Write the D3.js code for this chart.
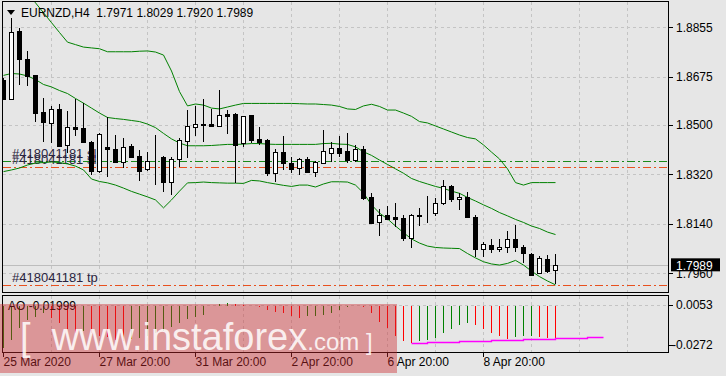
<!DOCTYPE html>
<html>
<head>
<meta charset="utf-8">
<script src="https://cdn.jsdelivr.net/npm/d3@7"></script>
<style>
  body { margin: 0; background: #e6e6e6; }
  svg { display: block; font-family: "Liberation Sans", Arial, sans-serif; }
</style>
</head>
<body>
<svg id="chart" width="726" height="376"></svg>
<script>
// EURNZD H4 candles (oldest first)
const opens = [1.8663, 1.8593, 1.8842, 1.8740, 1.8680, 1.8548, 1.8506, 1.8557, 1.8427, 1.8491,
  1.8487, 1.8437, 1.8333, 1.8420, 1.8411, 1.8366, 1.8423, 1.8387, 1.8338, 1.8384,
  1.8384, 1.8291, 1.8375, 1.8442, 1.8493, 1.8503, 1.8503, 1.8497, 1.8538, 1.8540,
  1.8433, 1.8536, 1.8448, 1.8445, 1.8326, 1.8400, 1.8360, 1.8344, 1.8375, 1.8330,
  1.8360, 1.8399, 1.8416, 1.8405, 1.8372, 1.8411, 1.8237, 1.8146, 1.8172, 1.8164,
  1.8160, 1.8087, 1.8171, 1.8174, 1.8178, 1.8215, 1.8278, 1.8229, 1.8237, 1.8164,
  1.8047, 1.8062, 1.8047, 1.8055, 1.8084, 1.8055, 1.8029, 1.7960, 1.8012, 1.7971];
const highs = [1.8671, 1.8888, 1.8851, 1.8769, 1.8681, 1.8597, 1.8569, 1.8576, 1.8550, 1.8594,
  1.8579, 1.8441, 1.8470, 1.8528, 1.8463, 1.8451, 1.8430, 1.8409, 1.8402, 1.8463,
  1.8387, 1.8384, 1.8451, 1.8554, 1.8569, 1.8593, 1.8557, 1.8627, 1.8554, 1.8544,
  1.8532, 1.8537, 1.8491, 1.8447, 1.8411, 1.8459, 1.8383, 1.8381, 1.8384, 1.8370,
  1.8481, 1.8437, 1.8459, 1.8469, 1.8427, 1.8423, 1.8253, 1.8194, 1.8205, 1.8217,
  1.8171, 1.8174, 1.8197, 1.8241, 1.8235, 1.8299, 1.8280, 1.8251, 1.8257, 1.8172,
  1.8073, 1.8084, 1.8084, 1.8115, 1.8136, 1.8063, 1.8033, 1.8023, 1.8027, 1.8029];
const lows = [1.8591, 1.8591, 1.8645, 1.8641, 1.8509, 1.8439, 1.8434, 1.8420, 1.8398, 1.8459,
  1.8433, 1.8318, 1.8325, 1.8312, 1.8361, 1.8343, 1.8383, 1.8297, 1.8333, 1.8281,
  1.8257, 1.8245, 1.8348, 1.8379, 1.8459, 1.8439, 1.8491, 1.8491, 1.8467, 1.8287,
  1.8421, 1.8433, 1.8427, 1.8314, 1.8291, 1.8336, 1.8324, 1.8318, 1.8328, 1.8312,
  1.8358, 1.8366, 1.8384, 1.8362, 1.8366, 1.8227, 1.8143, 1.8097, 1.8155, 1.8128,
  1.8079, 1.8053, 1.8133, 1.8142, 1.8170, 1.8209, 1.8221, 1.8190, 1.8160, 1.8020,
  1.8020, 1.8035, 1.8039, 1.8035, 1.8039, 1.7996, 1.7950, 1.7958, 1.7960, 1.7920];
const closes = [1.8594, 1.8837, 1.8740, 1.8679, 1.8545, 1.8509, 1.8557, 1.8423, 1.8491, 1.8486,
  1.8437, 1.8333, 1.8466, 1.8411, 1.8366, 1.8421, 1.8384, 1.8333, 1.8370, 1.8382,
  1.8293, 1.8375, 1.8445, 1.8496, 1.8503, 1.8501, 1.8496, 1.8535, 1.8533, 1.8427,
  1.8531, 1.8445, 1.8439, 1.8326, 1.8400, 1.8362, 1.8339, 1.8375, 1.8330, 1.8364,
  1.8405, 1.8415, 1.8399, 1.8372, 1.8411, 1.8235, 1.8144, 1.8172, 1.8158, 1.8159,
  1.8090, 1.8172, 1.8170, 1.8175, 1.8215, 1.8278, 1.8229, 1.8237, 1.8166, 1.8047,
  1.8066, 1.8047, 1.8055, 1.8084, 1.8055, 1.8033, 1.7954, 1.8015, 1.7970, 1.7989];

// Bollinger bands
const bandUpper = [1.9089, 1.9053, 1.9016, 1.8980, 1.8944, 1.8908, 1.8872, 1.8836, 1.8801, 1.8792,
  1.8783, 1.8780, 1.8777, 1.8766, 1.8766, 1.8766, 1.8766, 1.8768, 1.8769, 1.8765,
  1.8754, 1.8696, 1.8621, 1.8569, 1.8576, 1.8572, 1.8561, 1.8558, 1.8565, 1.8572,
  1.8578, 1.8578, 1.8578, 1.8578, 1.8578, 1.8578, 1.8578, 1.8577, 1.8576, 1.8576,
  1.8574, 1.8572, 1.8567, 1.8558, 1.8556, 1.8569, 1.8575, 1.8567, 1.8554, 1.8554,
  1.8543, 1.8531, 1.8512, 1.8507, 1.8496, 1.8485, 1.8474, 1.8463, 1.8454, 1.8449,
  1.8427, 1.8401, 1.8376, 1.8340, 1.8290, 1.8281, 1.8290, 1.8290, 1.8290, 1.8290];
const bandMiddle = [1.8680, 1.8687, 1.8685, 1.8678, 1.8665, 1.8647, 1.8638, 1.8625, 1.8614, 1.8596,
  1.8579, 1.8561, 1.8543, 1.8527, 1.8523, 1.8520, 1.8516, 1.8512, 1.8503, 1.8490,
  1.8469, 1.8449, 1.8434, 1.8424, 1.8424, 1.8424, 1.8425, 1.8427, 1.8429, 1.8429,
  1.8430, 1.8432, 1.8432, 1.8430, 1.8429, 1.8429, 1.8429, 1.8429, 1.8429, 1.8429,
  1.8432, 1.8433, 1.8430, 1.8429, 1.8420, 1.8402, 1.8389, 1.8372, 1.8356, 1.8340,
  1.8324, 1.8305, 1.8294, 1.8285, 1.8276, 1.8269, 1.8259, 1.8251, 1.8236, 1.8223,
  1.8209, 1.8196, 1.8181, 1.8169, 1.8156, 1.8145, 1.8132, 1.8123, 1.8110, 1.8101];
const bandLower = [1.8330, 1.8336, 1.8343, 1.8354, 1.8361, 1.8363, 1.8365, 1.8363, 1.8358, 1.8350,
  1.8336, 1.8303, 1.8294, 1.8289, 1.8281, 1.8270, 1.8258, 1.8248, 1.8238, 1.8227,
  1.8198, 1.8227, 1.8259, 1.8289, 1.8290, 1.8292, 1.8290, 1.8289, 1.8288, 1.8288,
  1.8287, 1.8298, 1.8296, 1.8290, 1.8285, 1.8280, 1.8276, 1.8281, 1.8281, 1.8274,
  1.8285, 1.8293, 1.8293, 1.8292, 1.8281, 1.8252, 1.8209, 1.8179, 1.8158, 1.8132,
  1.8108, 1.8085, 1.8070, 1.8059, 1.8054, 1.8052, 1.8051, 1.8050, 1.8032, 1.8016,
  1.8002, 1.7994, 1.7990, 1.7996, 1.8007, 1.7990, 1.7968, 1.7948, 1.7932, 1.7918];

// Awesome Oscillator
const aoValues = [-0.0262, -0.0210, -0.0138, -0.0087, -0.0069, -0.0048, -0.0077, -0.0108, -0.0145, -0.0171,
  -0.0155, -0.0167, -0.0186, -0.0196, -0.0212, -0.0216, -0.0208, -0.0202, -0.0186, -0.0171,
  -0.0155, -0.0134, -0.0110, -0.0083, -0.0069, -0.0057, -0.0003, 0.0010, 0.0017, 0.0008,
  0.0003, -0.0001, -0.0012, -0.0028, -0.0040, -0.0046, -0.0065, -0.0077, -0.0067, -0.0063,
  -0.0057, -0.0048, -0.0026, -0.0011, -0.0002, -0.0011, -0.0048, -0.0100, -0.0140, -0.0186,
  -0.0216, -0.0233, -0.0216, -0.0210, -0.0202, -0.0171, -0.0143, -0.0118, -0.0106, -0.0118,
  -0.0143, -0.0171, -0.0186, -0.0206, -0.0194, -0.0188, -0.0186, -0.0196, -0.0198, -0.01999];
// magenta step line in the AO window
const aoStepIndex = [51, 53, 57, 61, 65, 69, 73, 75];
const aoStepValue = [-0.0233, -0.0226, -0.0220, -0.0212, -0.0206, -0.0200, -0.0196, -0.0196];

// order levels
const levelPrices = [1.8368, 1.8348, 1.7916];
const levelColors = ["#1a8a1a", "#e8501e", "#e8501e"];
const levelTexts = ["#418041181 sl", "#418041181 sl", "#418041181 tp"];
const bidPrice = 1.7989;

const priceTicks = [1.8855, 1.8675, 1.8500, 1.8320, 1.8140, 1.7960];
const aoTicks = [0.0053, -0.0272];
const dateIndex = [0, 12, 24, 36, 48, 60];
const dateText = ["25 Mar 2020", "27 Mar 20:00", "31 Mar 20:00", "2 Apr 20:00", "6 Apr 20:00", "8 Apr 20:00"];
const gridIndex = d3.range(6, 115, 6);

const main = { left: 2.5, right: 668.5, top: 1.5, bottom: 292.5 };
const sub = { left: 2.5, right: 668.5, top: 295.5, bottom: 352.5 };

const svg = d3.select("#chart");

const x = d3.scaleLinear().domain([0, 69]).range([3.5, 555.5]);
const y = d3.scaleLinear().domain([1.8855, 1.7960]).range([27.3, 273.3]);
const yAO = d3.scaleLinear().domain([0, -0.0272]).range([305.5, 349.7]);

svg.append("defs").append("clipPath").attr("id", "clipMain")
  .append("rect")
  .attr("x", main.left).attr("y", main.top)
  .attr("width", main.right - main.left).attr("height", main.bottom - main.top);
svg.select("defs").append("clipPath").attr("id", "clipSub")
  .append("rect")
  .attr("x", sub.left).attr("y", sub.top)
  .attr("width", sub.right - sub.left).attr("height", sub.bottom - sub.top);

// grid
const grid = svg.append("g")
  .attr("stroke", "#c4c4c4")
  .attr("stroke-dasharray", "3,3")
  .attr("shape-rendering", "crispEdges");

grid.selectAll(".hg").data(priceTicks).enter().append("line")
  .attr("x1", main.left).attr("x2", main.right)
  .attr("y1", d => Math.round(y(d)) + 0.5).attr("y2", d => Math.round(y(d)) + 0.5);
grid.selectAll(".vg").data(gridIndex.filter(i => x(i) < main.right)).enter().append("line")
  .attr("x1", d => x(d)).attr("x2", d => x(d))
  .attr("y1", main.top).attr("y2", main.bottom);
grid.append("line")
  .attr("x1", sub.left).attr("x2", sub.right)
  .attr("y1", yAO(0)).attr("y2", yAO(0));
grid.selectAll(".vgs").data(gridIndex.filter(i => x(i) < sub.right)).enter().append("line")
  .attr("x1", d => x(d)).attr("x2", d => x(d))
  .attr("y1", sub.top).attr("y2", sub.bottom);

const plot = svg.append("g").attr("clip-path", "url(#clipMain)");

// bid line
plot.append("line")
  .attr("x1", main.left).attr("x2", main.right)
  .attr("y1", Math.round(y(bidPrice)) + 0.5).attr("y2", Math.round(y(bidPrice)) + 0.5)
  .attr("stroke", "#bdbdbd").attr("shape-rendering", "crispEdges");

// order levels
plot.selectAll(".lvl").data(levelPrices).enter().append("line")
  .attr("x1", main.left).attr("x2", main.right)
  .attr("y1", d => Math.round(y(d)) + 0.5).attr("y2", d => Math.round(y(d)) + 0.5)
  .attr("stroke", (d, i) => levelColors[i])
  .attr("stroke-dasharray", "8,3,2,3")
  .attr("shape-rendering", "crispEdges");

plot.selectAll(".lvlt").data(levelPrices).enter().append("text")
  .attr("x", 12)
  .attr("y", d => y(d) - 3)
  .attr("font-size", 13)
  .attr("fill", "#2a2440")
  .text((d, i) => levelTexts[i]);

// bands
const bandLine = d3.line().x((d, i) => x(i)).y(d => y(d));
[bandUpper, bandMiddle, bandLower].forEach(b => {
  plot.append("path")
    .datum(b)
    .attr("d", bandLine)
    .attr("fill", "none")
    .attr("stroke", "#008000")
    .attr("stroke-width", 1);
});

// candles
const candles = d3.range(opens.length).map(i => ({
  i, o: opens[i], h: highs[i], l: lows[i], c: closes[i]
}));

plot.selectAll(".wick").data(candles).enter().append("line")
  .attr("x1", d => x(d.i)).attr("x2", d => x(d.i))
  .attr("y1", d => y(d.h)).attr("y2", d => y(d.l))
  .attr("stroke", "#000")
  .attr("shape-rendering", "crispEdges");

plot.selectAll(".body").data(candles).enter().append("rect")
  .attr("x", d => x(d.i) - 2)
  .attr("y", d => Math.round(y(Math.max(d.o, d.c))) + 0.5)
  .attr("width", 4)
  .attr("height", d => Math.max(0, Math.round(y(Math.min(d.o, d.c))) - Math.round(y(Math.max(d.o, d.c)))))
  .attr("fill", d => d.c >= d.o ? "#fff" : "#000")
  .attr("stroke", "#000")
  .attr("shape-rendering", "crispEdges");

// title
svg.append("path")
  .attr("d", "M7,10 L15,10 L11,15 Z")
  .attr("fill", "#000");
svg.append("text")
  .attr("x", 21).attr("y", 17)
  .attr("font-size", 12)
  .attr("fill", "#000")
  .attr("xml:space", "preserve")
  .text("EURNZD,H4  1.7971 1.8029 1.7920 1.7989");

// AO histogram
const aoG = svg.append("g").attr("clip-path", "url(#clipSub)");
aoG.selectAll(".ao").data(aoValues).enter().append("line")
  .attr("x1", (d, i) => x(i)).attr("x2", (d, i) => x(i))
  .attr("y1", yAO(0)).attr("y2", d => yAO(d))
  .attr("stroke", (d, i) => (i === 0 || d > aoValues[i - 1]) ? "#008000" : "#ff0000")
  .attr("shape-rendering", "crispEdges");

aoG.append("path")
  .datum(aoStepIndex.map((k, j) => [k, aoStepValue[j]]))
  .attr("d", d3.line().x(d => x(d[0])).y(d => Math.round(yAO(d[1])) + 0.5).curve(d3.curveStepAfter))
  .attr("fill", "none")
  .attr("stroke", "#ff00ff")
  .attr("stroke-width", 1.3);

svg.append("text")
  .attr("x", 8).attr("y", 310)
  .attr("font-size", 12)
  .attr("fill", "#000")
  .text("AO -0.01999");

// frames
[main, sub].forEach(p => {
  svg.append("rect")
    .attr("x", p.left).attr("y", p.top)
    .attr("width", p.right - p.left).attr("height", p.bottom - p.top)
    .attr("fill", "none").attr("stroke", "#000")
    .attr("shape-rendering", "crispEdges");
});

// price axis
const axisG = svg.append("g");
axisG.selectAll(".pt").data(priceTicks).enter().append("line")
  .attr("x1", main.right).attr("x2", main.right + 4)
  .attr("y1", d => Math.round(y(d)) + 0.5).attr("y2", d => Math.round(y(d)) + 0.5)
  .attr("stroke", "#000").attr("shape-rendering", "crispEdges");
axisG.selectAll(".pl").data(priceTicks).enter().append("text")
  .attr("x", 676).attr("y", d => y(d) + 4.5)
  .attr("font-size", 12).attr("fill", "#000")
  .text(d => d.toFixed(4));

// current price tag
axisG.append("rect")
  .attr("x", 671).attr("y", y(bidPrice) - 7)
  .attr("width", 49).attr("height", 13)
  .attr("fill", "#000");
axisG.append("text")
  .attr("x", 676).attr("y", y(bidPrice) + 4.5)
  .attr("font-size", 12).attr("fill", "#fff")
  .text(bidPrice.toFixed(4));

// AO axis
axisG.selectAll(".at").data(aoTicks).enter().append("line")
  .attr("x1", sub.right).attr("x2", sub.right + 4)
  .attr("y1", (d, i) => i === 0 ? 305.5 : 345.5).attr("y2", (d, i) => i === 0 ? 305.5 : 345.5)
  .attr("stroke", "#000").attr("shape-rendering", "crispEdges");
axisG.selectAll(".al").data(aoTicks).enter().append("text")
  .attr("x", d => d < 0 ? 672 : 676)
  .attr("y", d => yAO(d))
  .attr("dy", d => d < 0 ? "-0.05em" : "1.03em")
  .attr("font-size", 12).attr("fill", "#000")
  .text(d => d.toFixed(4));

// time axis
axisG.selectAll(".tt").data(dateIndex).enter().append("line")
  .attr("x1", d => x(d)).attr("x2", d => x(d))
  .attr("y1", sub.bottom).attr("y2", sub.bottom + 4)
  .attr("stroke", "#000").attr("shape-rendering", "crispEdges");
axisG.selectAll(".tl").data(dateIndex).enter().append("text")
  .attr("x", d => x(d))
  .attr("y", 366)
  .attr("font-size", 12).attr("fill", "#000")
  .text((d, i) => dateText[i]);

// watermark
const wm = svg.append("g");
wm.append("rect")
  .attr("x", 0).attr("y", 304)
  .attr("width", 397).attr("height", 69)
  .attr("fill", "rgba(205,40,45,0.42)");
wm.append("text")
  .attr("x", 20).attr("y", 350)
  .attr("fill", "rgba(255,255,255,0.85)")
  .attr("font-size", 38)
  .attr("xml:space", "preserve")
  .text("[  www.instaforex")
  .append("tspan")
  .attr("font-size", 24)
  .text(".com ]");
</script>
</body>
</html>
